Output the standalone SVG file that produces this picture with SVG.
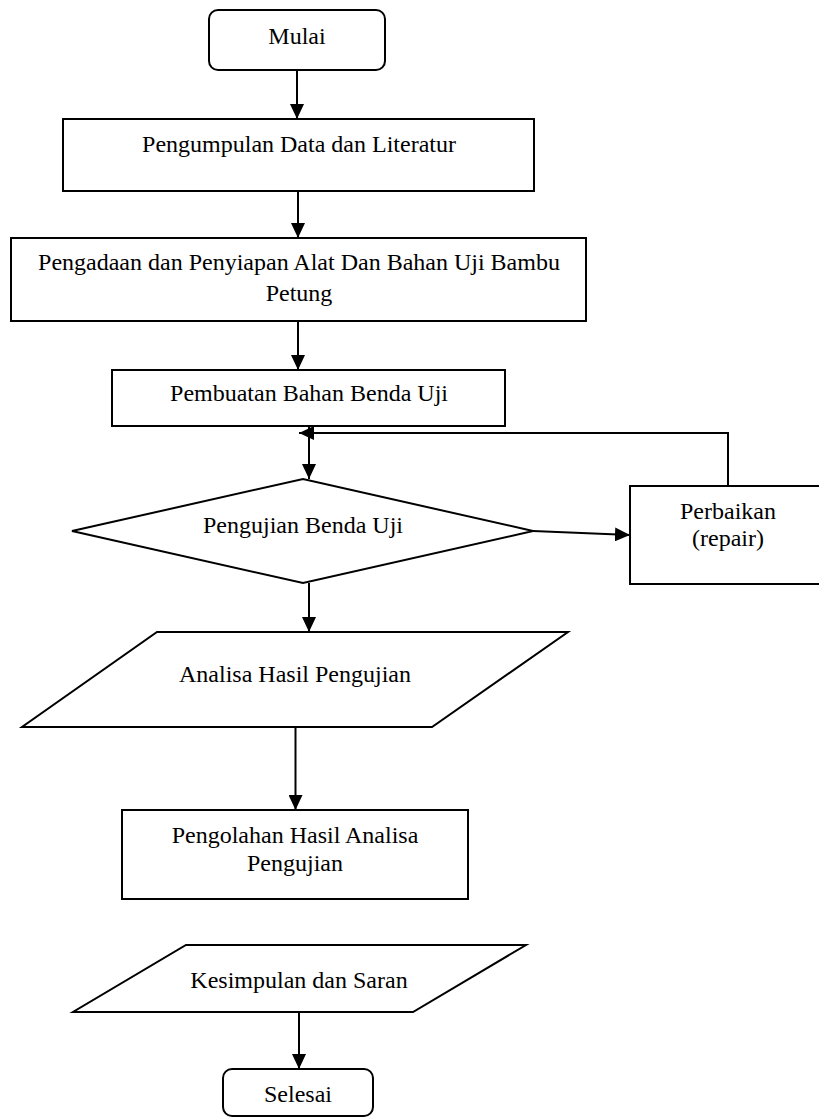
<svg xmlns="http://www.w3.org/2000/svg" width="819" height="1117" viewBox="0 0 819 1117">
<style>
.shape{fill:#fff;stroke:#000;stroke-width:2}
.lbl{font-family:'Liberation Serif','Tinos','DejaVu Serif',serif;font-size:24px;fill:#000;text-anchor:middle}
.conn{fill:none;stroke:#000;stroke-width:2}
</style>
<defs>
<marker id="ah" markerUnits="userSpaceOnUse" markerWidth="15" markerHeight="14" refX="15" refY="7" orient="auto">
<path d="M0,0 L15,7 L0,14 z" fill="#000"/>
</marker>
</defs>
<rect width="819" height="1117" fill="#fff"/>
<g font-family="Liberation Serif, serif">
<g id="mulai">
<rect class="shape" x="209" y="10" width="176" height="60" rx="9"/>
<text class="lbl" x="297" y="44">Mulai</text>
</g>
<g id="pengumpulan">
<rect class="shape" x="63" y="119" width="471" height="72"/>
<text class="lbl" x="299" y="152">Pengumpulan Data dan Literatur</text>
</g>
<g id="pengadaan">
<rect class="shape" x="11" y="238" width="575" height="83"/>
<text class="lbl" x="299" y="270">Pengadaan dan Penyiapan Alat Dan Bahan Uji Bambu</text>
<text class="lbl" x="299" y="301">Petung</text>
</g>
<g id="pembuatan">
<rect class="shape" x="112" y="370" width="393" height="56"/>
<text class="lbl" x="309" y="401">Pembuatan Bahan Benda Uji</text>
</g>
<g id="pengujian">
<polygon class="shape" points="72,531 303,479 533,531 303,583"/>
<text class="lbl" x="303" y="533">Pengujian Benda Uji</text>
</g>
<g id="perbaikan">
<rect class="shape" x="630" y="486" width="200" height="98"/>
<text class="lbl" x="728" y="519">Perbaikan</text>
<text class="lbl" x="728" y="546">(repair)</text>
</g>
<g id="analisa">
<polygon class="shape" points="157,632 568,632 432,727 22,727"/>
<text class="lbl" x="295" y="682">Analisa Hasil Pengujian</text>
</g>
<g id="pengolahan">
<rect class="shape" x="122" y="810" width="346" height="89"/>
<text class="lbl" x="295" y="843">Pengolahan Hasil Analisa</text>
<text class="lbl" x="295" y="871">Pengujian</text>
</g>
<g id="kesimpulan">
<polygon class="shape" points="186,945 526,945 413,1012 73,1012"/>
<text class="lbl" x="299" y="988">Kesimpulan dan Saran</text>
</g>
<g id="selesai">
<rect class="shape" x="223" y="1069" width="150" height="47" rx="9"/>
<text class="lbl" x="298" y="1102">Selesai</text>
</g>
</g>
<g id="connectors">
<line class="conn" x1="297" y1="70" x2="297" y2="119" marker-end="url(#ah)"/>
<line class="conn" x1="298" y1="191" x2="298" y2="238" marker-end="url(#ah)"/>
<line class="conn" x1="298" y1="321" x2="298" y2="370" marker-end="url(#ah)"/>
<line class="conn" x1="309" y1="426" x2="309" y2="479" marker-end="url(#ah)"/>
<polyline class="conn" points="728,486 728,433 299,433" marker-end="url(#ah)"/>
<line class="conn" x1="533" y1="531" x2="630" y2="535" marker-end="url(#ah)"/>
<line class="conn" x1="309" y1="583" x2="309" y2="632" marker-end="url(#ah)"/>
<line class="conn" x1="295.5" y1="727" x2="295.5" y2="810" marker-end="url(#ah)"/>
<line class="conn" x1="299" y1="1012" x2="299" y2="1069" marker-end="url(#ah)"/>
</g>
</svg>
